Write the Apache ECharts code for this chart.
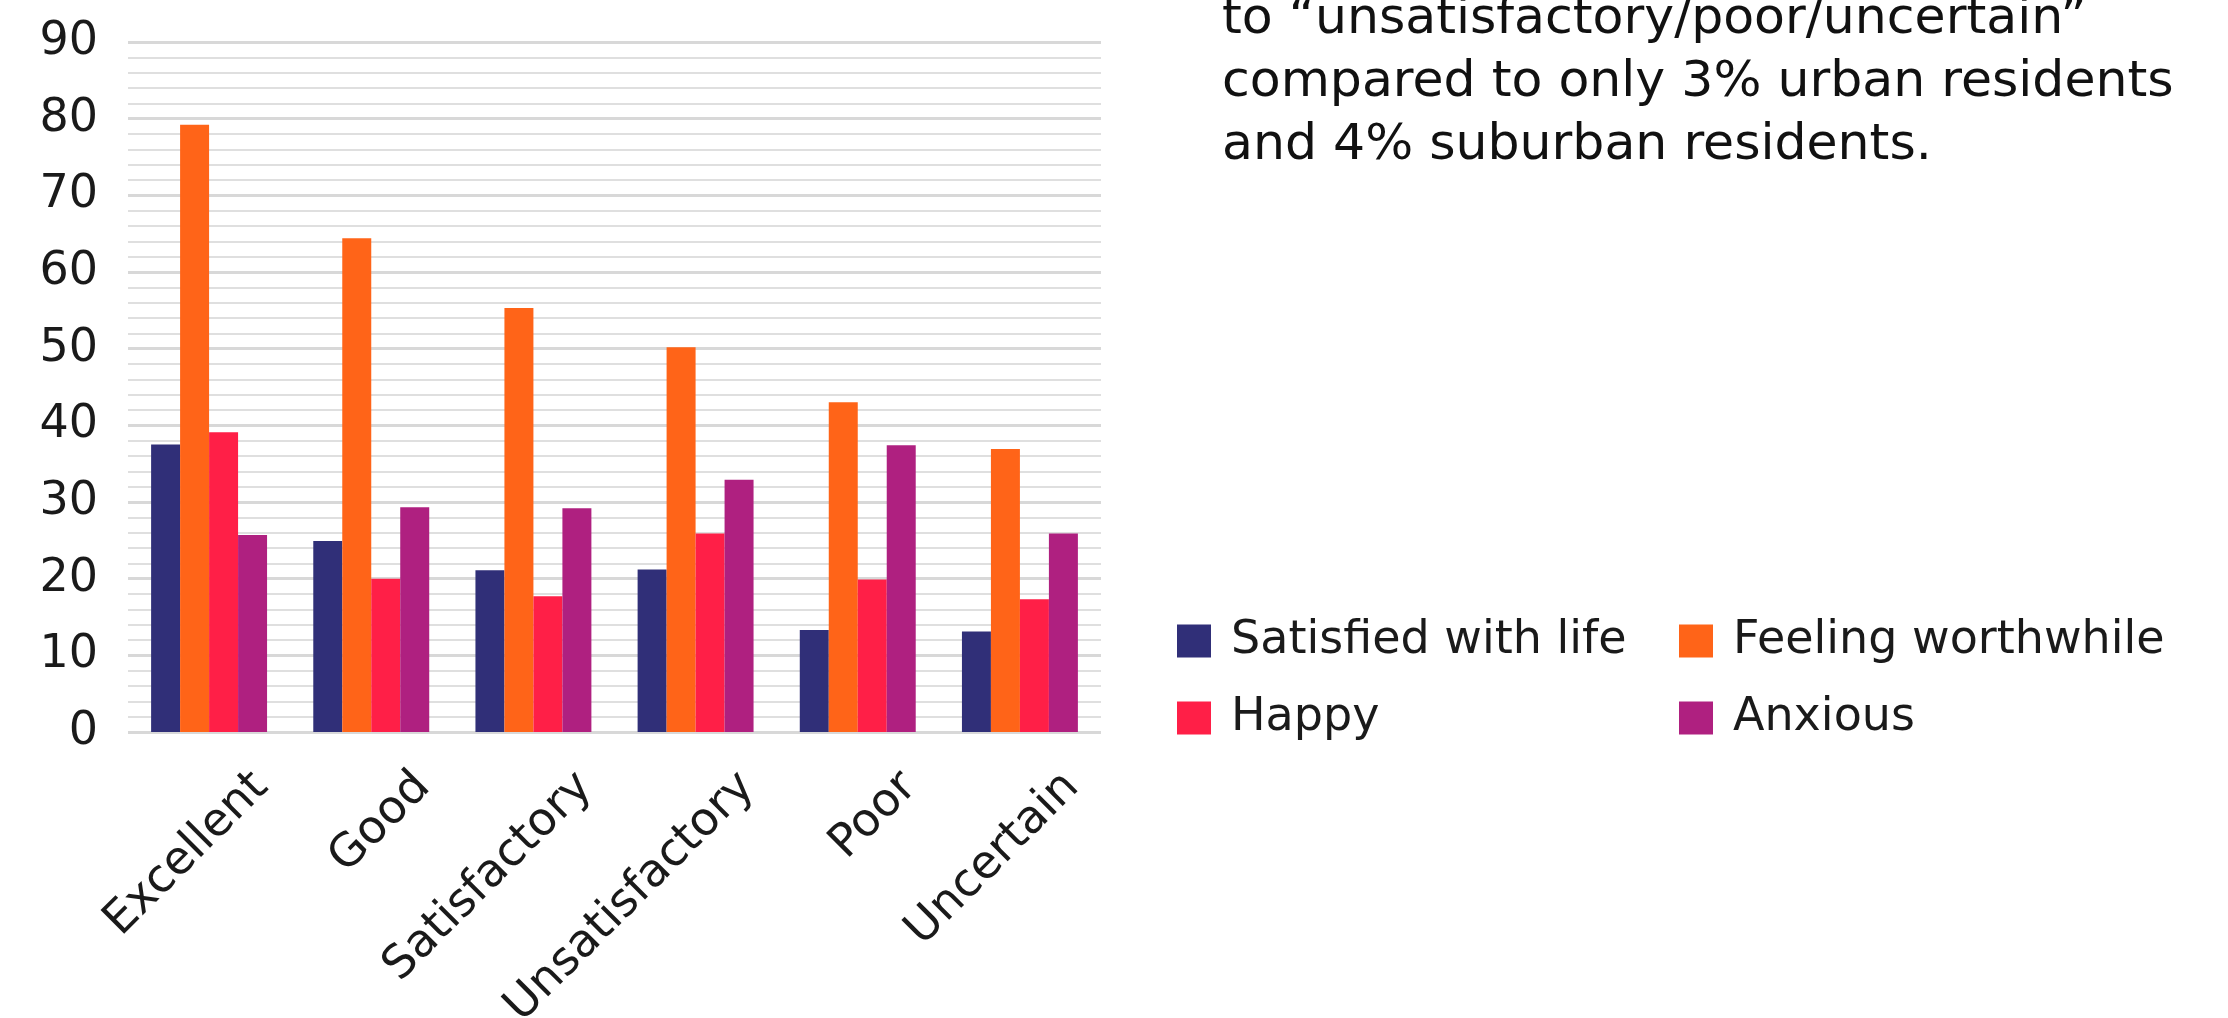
<!DOCTYPE html>
<html>
<head>
<meta charset="utf-8">
<title>Life satisfaction by rating</title>
<script src="https://cdn.jsdelivr.net/npm/echarts@6/dist/echarts.min.js"></script>
<style>
  html, body { margin: 0; padding: 0; background: #ffffff; }
  #chart { width: 2228px; height: 1018px; }
</style>
</head>
<body>
<div id="chart"></div>
<script>
// Rating categories along the x axis
const categories = ['Excellent', 'Good', 'Satisfactory', 'Unsatisfactory', 'Poor', 'Uncertain'];

// Series values (%)
const satisfied = [37.5, 24.9, 21.1, 21.2, 13.3, 13.1];
const worthwhile = [79.2, 64.4, 55.3, 50.2, 43.0, 36.9];
const happy = [39.1, 20.0, 17.7, 25.9, 19.9, 17.3];
const anxious = [25.7, 29.3, 29.2, 32.9, 37.4, 25.9];

const seriesNames = ['Satisfied with life', 'Feeling worthwhile', 'Happy', 'Anxious'];
const seriesColors = ['#302F78', '#FF6418', '#FF1F47', '#AF2080'];

// Y axis range and tick step
const yMin = 0, yMax = 90, yStep = 10;

// Commentary text beside the chart
const noteLines = [
  'to \u201cunsatisfactory/poor/uncertain\u201d',
  'compared to only 3% urban residents',
  'and 4% suburban residents.'
];

const FONT = '"DejaVu Sans", "Noto Sans", sans-serif';
const TEXT_COLOR = '#1a1a1a';

const chart = echarts.init(document.getElementById('chart'), null, { renderer: 'canvas' });

const values = [satisfied, worthwhile, happy, anxious];

const plotLeft = 128, plotWidth = 973, plotTop = 42, plotHeight = 690;

const legendText = {
  fontFamily: FONT,
  fontSize: 46,
  lineHeight: 46,
  color: TEXT_COLOR,
  padding: [0, 0, 0, 15]
};

const option = {
  backgroundColor: '#ffffff',
  animation: false,
  grid: [
    { left: plotLeft, top: plotTop, width: plotWidth, height: plotHeight, outerBoundsMode: 'none' },
    // label grid: same size, shifted right so the slanted labels hang off the right of each group
    { left: plotLeft + 52, top: plotTop, width: plotWidth, height: plotHeight, outerBoundsMode: 'none' }
  ],
  xAxis: [
    {
      type: 'category',
      data: categories,
      gridIndex: 0,
      axisLine: { show: false },
      axisTick: { show: false },
      axisLabel: { show: false }
    },
    {
      type: 'category',
      data: categories,
      gridIndex: 1,
      axisLine: { show: false },
      axisTick: { show: false },
      axisLabel: {
        interval: 0,
        rotate: 45,
        margin: 48,
        fontFamily: FONT,
        fontSize: 46,
        color: TEXT_COLOR
      }
    }
  ],
  yAxis: [
    {
      type: 'value',
      gridIndex: 0,
      min: yMin,
      max: yMax,
      interval: yStep,
      axisLine: { show: false },
      axisTick: { show: false },
      axisLabel: {
        margin: 30,
        fontFamily: FONT,
        fontSize: 46,
        color: TEXT_COLOR,
        padding: [0, 0, 4, 0]
      },
      splitLine: { show: true, lineStyle: { color: '#d8d8d8', width: 3 } },
      minorTick: { show: false, splitNumber: 5 },
      minorSplitLine: { show: true, lineStyle: { color: '#dfdfdf', width: 2 } }
    },
    {
      type: 'value',
      gridIndex: 1,
      min: yMin,
      max: yMax,
      show: false
    }
  ],
  legend: [
    {
      orient: 'vertical',
      left: 1172,
      top: 613,
      data: [seriesNames[0], seriesNames[2]],
      icon: 'rect',
      itemWidth: 34,
      itemHeight: 33,
      itemGap: 31,
      selectedMode: false,
      textStyle: legendText
    },
    {
      orient: 'vertical',
      left: 1674,
      top: 613,
      data: [seriesNames[1], seriesNames[3]],
      icon: 'rect',
      itemWidth: 34,
      itemHeight: 33,
      itemGap: 31,
      selectedMode: false,
      textStyle: legendText
    }
  ],
  graphic: [
    {
      type: 'text',
      left: 1222,
      top: -12,
      silent: true,
      style: {
        text: noteLines.join('\n'),
        font: '50.5px ' + FONT,
        lineHeight: 63,
        fill: '#111111'
      }
    }
  ],
  series: seriesNames.map((name, i) => ({
    name: name,
    type: 'bar',
    xAxisIndex: 0,
    yAxisIndex: 0,
    data: values[i],
    barGap: '0%',
    barCategoryGap: '28.5%',
    itemStyle: { color: seriesColors[i] }
  }))
};

chart.setOption(option);
</script>
</body>
</html>
